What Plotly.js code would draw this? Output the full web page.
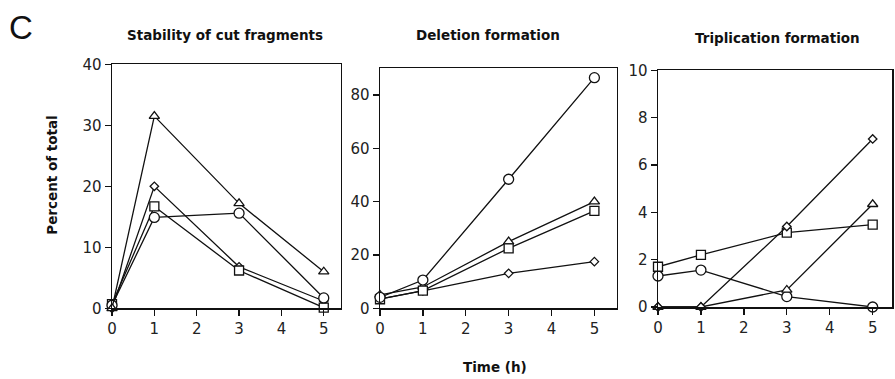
<!DOCTYPE html>
<html>
<head>
<meta charset="utf-8">
<script src="https://cdn.plot.ly/plotly-3.0.1.min.js"></script>
<style>html,body{margin:0;padding:0;background:#fff;}#chart{width:895px;height:379px;}</style>
</head>
<body>
<div id="chart"></div>
<script>
// ---- Data ----
const times = [0, 1, 3, 5];
const xTicks = [0, 1, 2, 3, 4, 5];
const panelTitles = ["Stability of cut fragments", "Deletion formation", "Triplication formation"];

// Panel 1: Stability of cut fragments
const stabCircle   = [0.5, 14.9, 15.6, 1.7];
const stabSquare   = [0.7, 16.7, 6.2, 0.1];
const stabTriangle = [0, 31.5, 17.2, 6.0];
const stabDiamond  = [0, 20.0, 6.8, 1.2];

// Panel 2: Deletion formation
const delCircle   = [4.1, 10.6, 48.4, 86.5];
const delSquare   = [3.4, 6.6, 22.5, 36.5];
const delTriangle = [5.0, 8.0, 25.0, 40.0];
const delDiamond  = [3.5, 6.5, 13.1, 17.5];

// Panel 3: Triplication formation
const triCircle   = [1.31, 1.56, 0.44, 0];
const triSquare   = [1.7, 2.2, 3.14, 3.48];
const triTriangle = [0, 0, 0.72, 4.34];
const triDiamond  = [0, 0, 3.4, 7.1];

// ---- Build ----
const FONT = "DejaVu Sans, Verdana, sans-serif";
const symbols = {circle: ["circle", 10], square: ["square", 9], triangle: ["triangle-up", 9], diamond: ["diamond", 6.5]};

function tr(y, kind, ax) {
  const [sym, size] = symbols[kind];
  return {
    x: times, y: y, type: "scatter", mode: "lines+markers",
    xaxis: "x" + ax, yaxis: "y" + ax, cliponaxis: false, showlegend: false,
    line: {color: "#111", width: 1.3},
    marker: {symbol: sym, size: size, color: "#fff", line: {color: "#111", width: 1.3}}
  };
}

const data = [
  tr(stabDiamond, "diamond", ""), tr(stabSquare, "square", ""), tr(stabCircle, "circle", ""), tr(stabTriangle, "triangle", ""),
  tr(delDiamond, "diamond", "2"), tr(delTriangle, "triangle", "2"), tr(delSquare, "square", "2"), tr(delCircle, "circle", "2"),
  tr(triCircle, "circle", "3"), tr(triSquare, "square", "3"), tr(triTriangle, "triangle", "3"), tr(triDiamond, "diamond", "3")
];

const W = 895, H = 379;
function xa(l, r, maxX, anchor) {
  return {domain: [l / W, r / W], range: [0, maxX], tickvals: xTicks, ticks: "outside", ticklen: 6, tickwidth: 1.3,
    tickcolor: "#111", showline: true, linecolor: "#111", linewidth: 1.5, mirror: true, showgrid: false, zeroline: false,
    anchor: anchor, tickfont: {family: FONT, size: 15, color: "#222"}, fixedrange: true};
}
function ya(top, bot, maxY, dt, anchor) {
  return {domain: [1 - bot / H, 1 - top / H], range: [0, maxY], dtick: dt, tick0: 0, ticks: "outside", ticklen: 6, tickwidth: 1.3,
    tickcolor: "#111", showline: true, linecolor: "#111", linewidth: 1.5, mirror: true, showgrid: false, zeroline: false,
    anchor: anchor, tickfont: {family: FONT, size: 15, color: "#222"}, fixedrange: true};
}

const titleFont = {family: FONT, size: 13.5, color: "#111", weight: "bold"};
const layout = {
  width: W, height: H, margin: {l: 0, r: 0, t: 0, b: 0},
  paper_bgcolor: "#fff", plot_bgcolor: "#fff",
  xaxis: xa(112, 340.7, 5.4, "y"), yaxis: ya(64.3, 308.3, 40, 10, "x"),
  xaxis2: xa(380, 616.7, 5.52, "y2"), yaxis2: ya(68.3, 308.3, 90, 20, "x2"),
  xaxis3: xa(658, 892, 5.45, "y3"), yaxis3: ya(70.3, 307, 10, 2, "x3"),
  annotations: [
    {text: "C", xref: "paper", yref: "paper", x: 7 / W, y: 1 - 27 / H, xanchor: "left", yanchor: "middle", showarrow: false,
     font: {family: "Liberation Sans, Arial, sans-serif", size: 33, color: "#111"}},
    {text: panelTitles[0], xref: "paper", yref: "paper", x: 225.5 / W, y: 1 - 35 / H, xanchor: "center", yanchor: "middle", showarrow: false, font: titleFont},
    {text: panelTitles[1], xref: "paper", yref: "paper", x: 488 / W, y: 1 - 35 / H, xanchor: "center", yanchor: "middle", showarrow: false, font: titleFont},
    {text: panelTitles[2], xref: "paper", yref: "paper", x: 777 / W, y: 1 - 37.5 / H, xanchor: "center", yanchor: "middle", showarrow: false, font: titleFont},
    {text: "Percent of total", xref: "paper", yref: "paper", x: 51.7 / W, y: 1 - 175 / H, xanchor: "center", yanchor: "middle", textangle: -90, showarrow: false, font: titleFont},
    {text: "Time (h)", xref: "paper", yref: "paper", x: 494.5 / W, y: 1 - 366.5 / H, xanchor: "center", yanchor: "middle", showarrow: false, font: titleFont}
  ]
};

Plotly.newPlot("chart", data, layout, {staticPlot: true, displayModeBar: false});
</script>
</body>
</html>
